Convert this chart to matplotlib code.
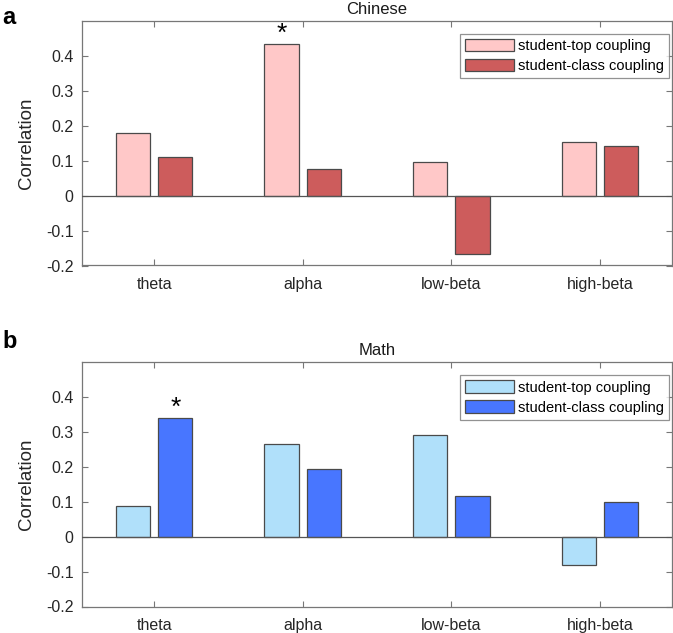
import matplotlib
matplotlib.use("Agg")
import matplotlib.pyplot as plt
import numpy as np

plt.rcParams['font.family'] = ['Liberation Sans', 'DejaVu Sans']

bands = ["theta", "alpha", "low-beta", "high-beta"]
series_names = ["student-top coupling", "student-class coupling"]

chinese_top = [0.178, 0.433, 0.096, 0.153]
chinese_class = [0.110, 0.076, -0.166, 0.142]
math_top = [0.087, 0.266, 0.291, -0.080]
math_class = [0.339, 0.194, 0.116, 0.100]

chinese_sig = [(1, 0)]   # (band index, series index) with asterisk
math_sig = [(0, 1)]

yticks = [-0.2, -0.1, 0, 0.1, 0.2, 0.3, 0.4]
ytick_labels = ["-0.2", "-0.1", "0", "0.1", "0.2", "0.3", "0.4"]

W, H = 673, 633
fig = plt.figure(figsize=(W / 100, H / 100), dpi=100)

def panel(rect, top, cls, colors, title, letter, letter_y, sig):
    ax = fig.add_axes(rect)
    x = np.arange(1, len(bands) + 1)
    off = 0.143
    bw = 0.23
    ax.bar(x - off, top, bw, color=colors[0], edgecolor='#4a4a4a', linewidth=0.9,
           label=series_names[0], zorder=2)
    ax.bar(x + off, cls, bw, color=colors[1], edgecolor='#4a4a4a', linewidth=0.9,
           label=series_names[1], zorder=2)
    ax.axhline(0, color='#555555', linewidth=0.9, zorder=3)
    ax.set_xlim(0.515, 4.485)
    ax.set_ylim(-0.2, 0.5)
    ax.set_xticks(x)
    ax.set_xticklabels(bands, fontsize=11.5, color='#262626')
    ax.set_yticks(yticks)
    ax.set_yticklabels(ytick_labels, fontsize=11.5, color='#262626')
    ax.tick_params(axis='both', direction='in', length=4.5, color='#777777', width=0.8,
                   top=True, right=True, pad=6)
    ax.tick_params(axis='x', pad=8)
    for s in ax.spines.values():
        s.set_color('#777777')
        s.set_linewidth(0.9)
    ax.set_ylabel("Correlation", fontsize=13.5, color='#262626', labelpad=8)
    ax.set_title(title, fontsize=12, color='#1a1a1a', pad=5)
    vals = [top, cls]
    for (bi, si) in sig:
        xpos = x[bi] + (-off if si == 0 else off)
        ax.text(xpos, vals[si][bi] - 0.004, "*", ha='center', va='bottom', fontsize=19,
                color='black')
    leg = ax.legend(loc='upper right', bbox_to_anchor=(0.995, 0.947), fontsize=10.5,
                    frameon=True, fancybox=False, edgecolor='#777777',
                    handlelength=3.3, handleheight=0.95, handletextpad=0.3,
                    borderpad=0.35, labelspacing=0.4, borderaxespad=0)
    leg.get_frame().set_linewidth(0.9)
    fig.text(0.003, 1 - letter_y / H, letter, fontsize=17, fontweight='bold',
             ha='left', va='center')
    return ax

panel([82 / W, 1 - 265.5 / H, 590 / W, (265.5 - 20.7) / H], chinese_top, chinese_class,
      ['#FFC8C8', '#CD5C5C'], "Chinese", "a", 17, chinese_sig)
panel([82 / W, 1 - 606.5 / H, 590 / W, (606.5 - 362.3) / H], math_top, math_class,
      ['#B0E0FA', '#4876FF'], "Math", "b", 342, math_sig)

fig.savefig("out.png", dpi=100)
